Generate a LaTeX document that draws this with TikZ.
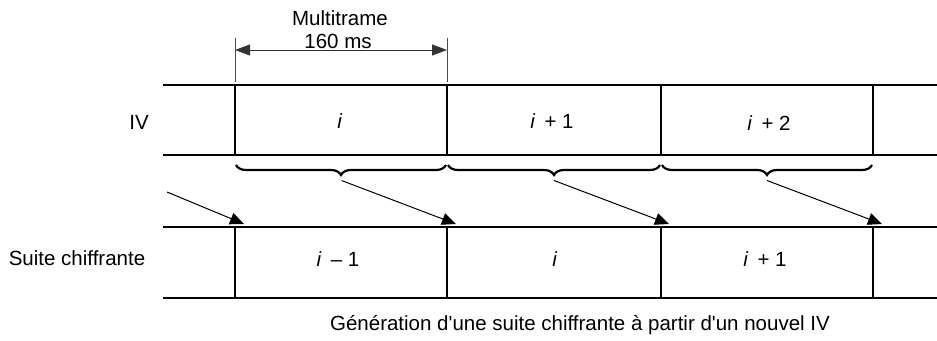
\documentclass[tikz,border=0pt]{standalone}
\usepackage{fontspec}
\setmainfont{Liberation Sans}[Ligatures=TeXOff]
\usetikzlibrary{arrows.meta,decorations.pathreplacing}
\begin{document}
\begin{tikzpicture}[x=1pt,y=-1pt,
  txt/.style={font=\fontsize{20.5}{23}\selectfont, inner sep=0pt, anchor=center},
  rowline/.style={line width=1.9pt},
  cellline/.style={line width=1.9pt},
  extline/.style={line width=0.7pt, draw=black!70},
  dimarrow/.style={line width=0.9pt, draw=black!80, {Triangle[length=15pt,width=11pt]}-{Triangle[length=15pt,width=11pt]}},
  brc/.style={line width=2.2pt, decorate, decoration={brace, amplitude=10pt, raise=0pt}},
  shiftarrow/.style={line width=1pt, -{Triangle[length=14pt,width=12pt]}}
]
\useasboundingbox (0,0) rectangle (937,340);

% rows
\draw[rowline] (163,85) -- (937,85);
\draw[rowline] (163,155) -- (937,155);
\draw[rowline] (163,227) -- (937,227);
\draw[rowline] (163,298) -- (937,298);
\foreach \x in {235,447,661,873}{
  \draw[cellline] (\x,85) -- (\x,155);
  \draw[cellline] (\x,227) -- (\x,298);
}

% dimension
\coordinate (d1) at (235,50);
\coordinate (d2) at (447,50);
\draw[extline] (235,38) -- (235,82);
\draw[extline] (447,38) -- (447,82);
\draw[dimarrow] (d1) -- (d2);
\node[txt] (multi) at (340,18) {Multitrame};
\node[txt] (ms) at (338,41) {160 ms};

% labels
\node[txt] (iv) at (139,122) {IV};
\node[txt] (suite) at (77,258) {Suite chiffrante};
\node[txt] (t1) at (340,121) {\textit{i}};
\node[txt] (t2) at (552,121) {\textit{i}\ \,+ 1};
\node[txt] (t3) at (769,123) {\textit{i}\ \,+ 2};
\node[txt] (b1) at (338,259) {\textit{i}\ \,– 1};
\node[txt] (b2) at (555,259) {\textit{i}};
\node[txt] (b3) at (765,259) {\textit{i}\ \,+ 1};
\node[txt] (cap) at (580,325) {Génération d'une suite chiffrante à partir d'un nouvel IV};

% braces (drawn right to left so the tip points down)
\draw[brc] (446,165) -- (236,165);
\draw[brc] (660,165) -- (448,165);
\draw[brc] (872,165) -- (662,165);

% shift arrows
\coordinate (s0) at (167,192);
\coordinate (s1) at (341.5,180.5);
\coordinate (s2) at (554,180.5);
\coordinate (s3) at (767,180.5);
\coordinate (e0) at (244,224);
\coordinate (e1) at (456,224);
\coordinate (e2) at (669,224);
\coordinate (e3) at (882,224);
\draw[shiftarrow] (s0) -- (e0);
\draw[shiftarrow] (s1) -- (e1);
\draw[shiftarrow] (s2) -- (e2);
\draw[shiftarrow] (s3) -- (e3);
\end{tikzpicture}
\end{document}
